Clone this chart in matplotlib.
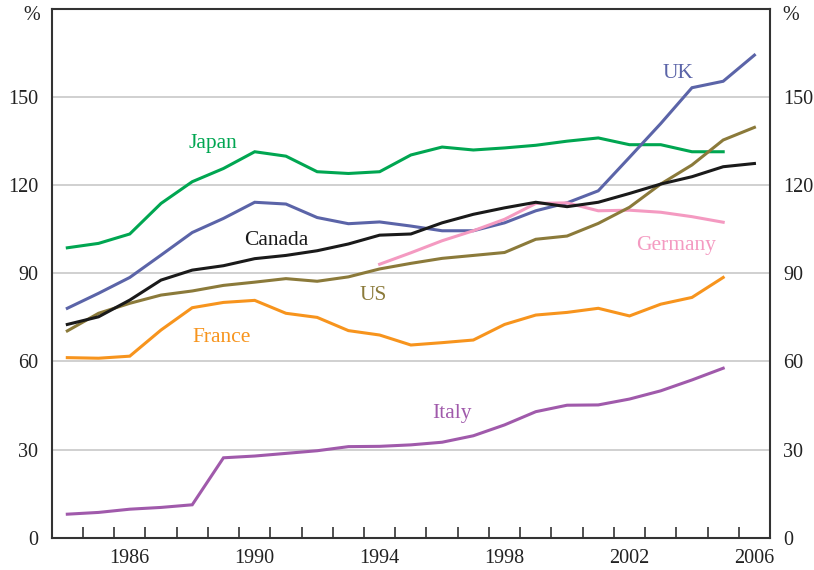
import numpy as np
import matplotlib.pyplot as plt

plt.rcParams['font.family'] = ['Liberation Serif', 'DejaVu Serif']

# Data (% of GDP), mid-year points
anios = np.arange(1984, 2007)

uk = [78.1, 83.2, 88.6, 96.2, 103.9, 108.7, 114.2, 113.6, 109.0, 106.9, 107.5, 106.1,
      104.5, 104.5, 107.2, 111.3, 114.0, 118.1, 129.5, 141.0, 153.2, 155.4, 164.3]
canada = [72.6, 75.2, 80.9, 87.7, 91.1, 92.6, 95.0, 96.1, 97.7, 100.0, 103.0, 103.4,
          107.2, 110.1, 112.3, 114.2, 112.7, 114.2, 117.2, 120.4, 122.9, 126.3, 127.4]
us = [70.4, 76.4, 79.8, 82.6, 84.0, 85.9, 87.0, 88.2, 87.3, 88.8, 91.5, 93.4,
      95.1, 96.1, 97.1, 101.6, 102.7, 107.0, 112.5, 120.4, 126.9, 135.4, 139.7]
japan = [98.7, 100.2, 103.4, 113.8, 121.2, 125.7, 131.4, 129.9, 124.6, 124.0, 124.6, 130.3,
         133.0, 132.0, 132.7, 133.6, 135.0, 136.1, 133.8, 133.8, 131.4, 131.4]
france = [61.3, 61.1, 61.8, 70.7, 78.3, 80.1, 80.8, 76.4, 75.0, 70.5, 69.0, 65.6,
          66.4, 67.3, 72.6, 75.8, 76.7, 78.1, 75.5, 79.5, 81.8, 88.6]
italy = [8.0, 8.6, 9.7, 10.3, 11.2, 27.2, 27.8, 28.7, 29.6, 31.0, 31.1, 31.6,
         32.5, 34.7, 38.4, 42.9, 45.1, 45.2, 47.2, 50.0, 53.7, 57.7]
germany_anios = np.arange(1994, 2006)
germany = [93.1, 97.0, 101.1, 104.5, 108.4, 113.8, 114.0, 111.3, 111.5, 110.8, 109.3, 107.4]

series = [
    ('Japan', anios[:22], japan, '#00a651', 1989.15, 134.3),
    ('UK', anios, uk, '#5b64a8', 2004.05, 158.1),
    ('Germany', germany_anios, germany, '#f49ac1', 2004.0, 99.6),
    ('US', anios, us, '#8b7a3a', 1994.3, 82.3),
    ('France', anios[:22], france, '#f7941d', 1989.45, 68.0),
    ('Italy', anios[:22], italy, '#a05aab', 1996.8, 42.4),
    ('Canada', anios, canada, '#1a1a1a', 1991.2, 101.3),
]

fig = plt.figure(figsize=(8.14, 5.70), dpi=100)
ax = fig.add_axes([0.0635, 0.0567, 0.8825, 0.9275])

for nombre, x, y, color, tx, ty in series:
    ax.plot(x + 0.5, y, color=color, linewidth=2.2, solid_joinstyle='miter')
    ax.text(tx, ty, nombre, color=color, fontsize=15.5, ha='center', va='center')

ax.set_xlim(1984, 2007)
ax.set_ylim(0, 180)
ax.set_yticks([0, 30, 60, 90, 120, 150])
ax.yaxis.grid(True, color='#c8c8c8', linewidth=1.2)
ax.set_axisbelow(True)

# ticks en los limites de cada año, etiquetas centradas en el año
ax.set_xticks(np.arange(1985, 2007))
ax.set_xticklabels([])
ax.set_xticks(np.arange(1986, 2007, 4) + 0.5, minor=True)
ax.set_xticklabels([str(a) for a in range(1986, 2007, 4)], minor=True)
ax.tick_params(axis='x', which='major', direction='in', length=8, width=1.2, color='#333333')
ax.tick_params(axis='x', which='minor', length=0, pad=8, labelsize=14.5, colors='#222222')
ax.tick_params(axis='y', length=0, labelsize=14.5, pad=9.5, labelright=True, colors='#222222')

for s in ax.spines.values():
    s.set_color('#333333')
    s.set_linewidth(1.5)

ax.text(-0.028, 0.987, '%', transform=ax.transAxes, fontsize=14.5, ha='center', va='center', color='#222222')
ax.text(1.029, 0.987, '%', transform=ax.transAxes, fontsize=14.5, ha='center', va='center', color='#222222')

fig.savefig('out.png', dpi=100)
